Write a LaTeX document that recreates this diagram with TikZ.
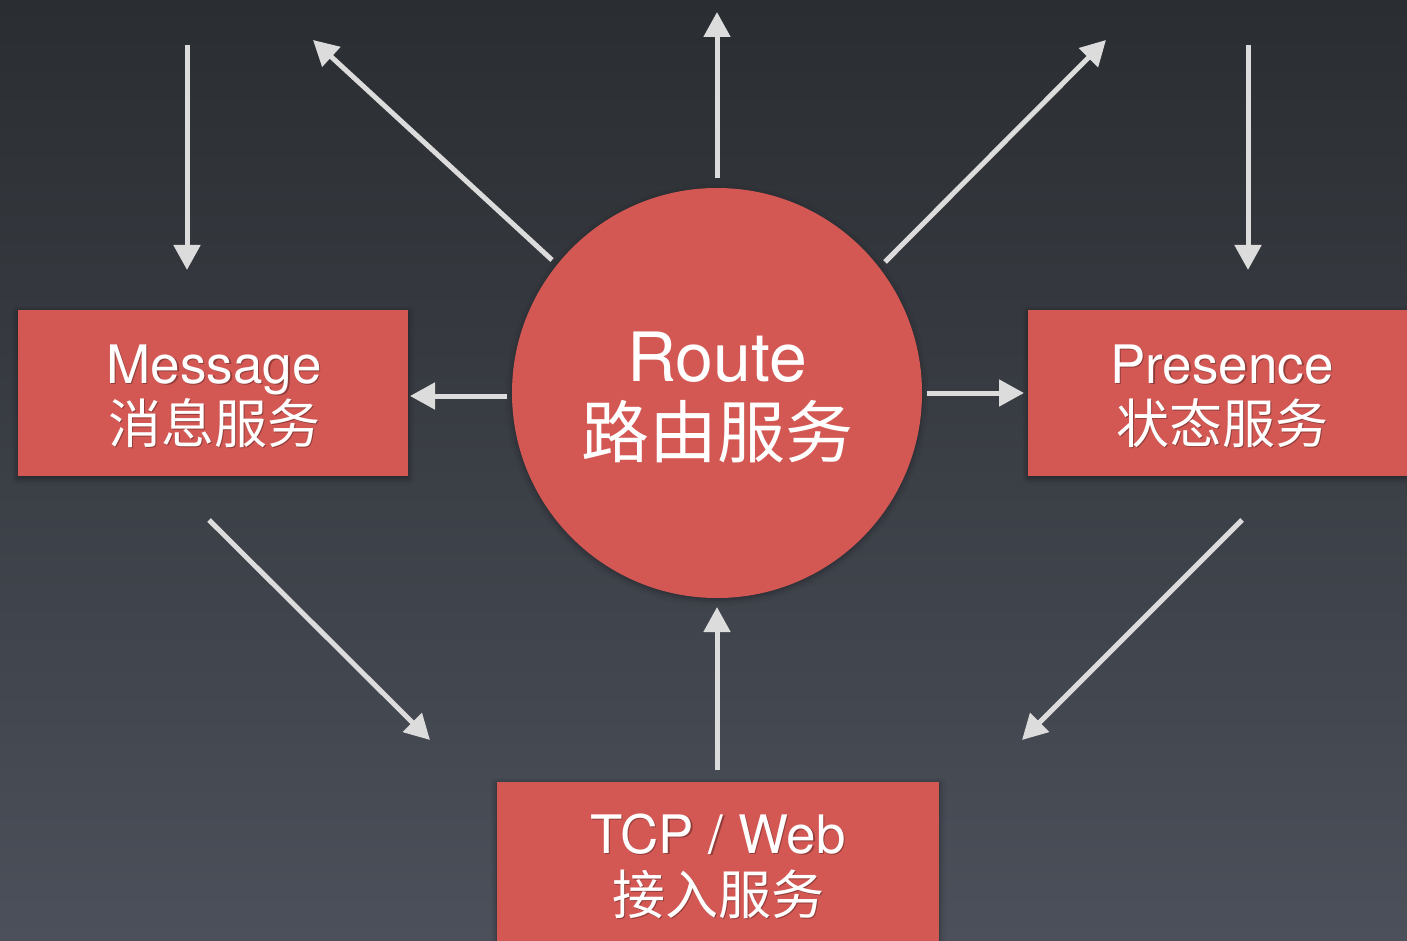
\documentclass[tikz,border=0pt]{standalone}
\usepackage{fontspec}
\setmainfont{TeX Gyre Heros}
\newfontfamily\cjk{Noto Sans CJK SC}
\usetikzlibrary{arrows.meta,shadows.blur}
\definecolor{bgtop}{HTML}{2A2D31}
\definecolor{bgbot}{HTML}{4B505A}
\definecolor{boxred}{HTML}{D35854}
\definecolor{arr}{HTML}{DCDCDC}
\tikzset{
  redbox/.style={fill=boxred, draw=none, inner sep=0pt, text=white, align=center,
    blur shadow={shadow xshift=0pt, shadow yshift=-2pt, shadow opacity=45, shadow blur radius=6pt}},
  flow/.style={draw=arr, line width=5pt, -{Triangle[width=26pt,length=25pt]}},
  lbl/.style={text=white, align=center, inner sep=0pt},
  shd/.style={text=black, opacity=0.3, align=center, inner sep=0pt},
  boxfont/.style={font=\fontsize{53}{60}\selectfont},
  tcpfont/.style={font=\fontsize{53}{61}\selectfont},
  routefont/.style={font=\fontsize{68}{76}\selectfont}
}
\begin{document}
\begin{tikzpicture}[x=1pt,y=-1pt]
\shade[top color=bgtop, bottom color=bgbot] (0,0) rectangle (1407,941);
\useasboundingbox (0,0) rectangle (1407,941);

% boxes
\node[redbox, minimum width=390pt, minimum height=166pt] (msg) at (213,393) {};
\node[redbox, minimum width=379pt, minimum height=166pt] (pres) at (1217.5,393) {};
\node[redbox, minimum width=442pt, minimum height=178pt] (tcp) at (718,871) {};
\node[circle, fill=boxred, minimum size=410pt, inner sep=0pt,
  blur shadow={shadow xshift=0pt, shadow yshift=-2pt, shadow opacity=35, shadow blur radius=6pt}] (route) at (717,393) {};

% labels
\node[shd, boxfont] at (215.5,397.5) {Message\\{\cjk 消息服务}};
\node[lbl, boxfont] (msgl) at (214,396) {Message\\{\cjk 消息服务}};
\node[shd, boxfont] at (1223.5,397.5) {Presence\\{\cjk 状态服务}};
\node[lbl, boxfont] (presl) at (1222,396) {Presence\\{\cjk 状态服务}};
\node[shd, tcpfont] at (719.5,867.5) {TCP / Web\\{\cjk 接入服务}};
\node[lbl, tcpfont] (tcpl) at (718,866) {TCP / Web\\{\cjk 接入服务}};
\node[lbl, routefont] (routel) at (717,397) {Route\\{\cjk 路由服务}};

% arrow end points
\coordinate (a1s) at (187,45);   \coordinate (a1e) at (187,270);
\coordinate (a2s) at (552,260);  \coordinate (a2e) at (313,40);
\coordinate (a3s) at (717,178);  \coordinate (a3e) at (717,12);
\coordinate (a4s) at (885,262);  \coordinate (a4e) at (1106,40);
\coordinate (a5s) at (1248,45);  \coordinate (a5e) at (1248,270);
\coordinate (a6s) at (507,396);  \coordinate (a6e) at (410,396);
\coordinate (a7s) at (927,393);  \coordinate (a7e) at (1024,393);
\coordinate (a8s) at (209,520);  \coordinate (a8e) at (430,740);
\coordinate (a9s) at (1242,520); \coordinate (a9e) at (1022,740);
\coordinate (a10s) at (717,770); \coordinate (a10e) at (717,607);

\foreach \i in {1,...,10} {
  \draw[flow] (a\i s) -- (a\i e);
}
\end{tikzpicture}
\end{document}
